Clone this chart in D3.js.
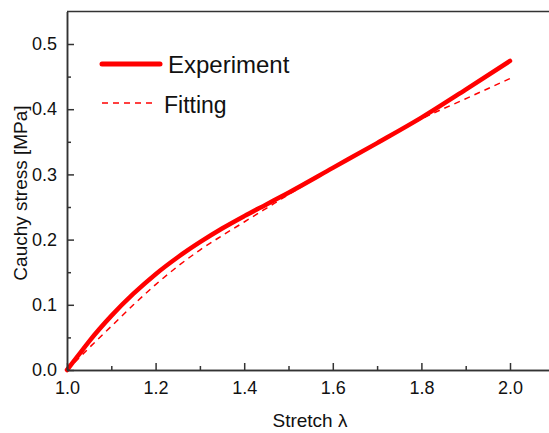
<!DOCTYPE html>
<html>
<head>
<meta charset="utf-8">
<script src="https://cdn.jsdelivr.net/npm/d3@7"></script>
<style>
	body { margin: 0; background: #ffffff; }
	svg { display: block; font-family: "Liberation Sans", Arial, sans-serif; }
</style>
</head>
<body>
<script>
// stretch values and stress readings (MPa)
var expStretch = [1.0, 1.025, 1.05, 1.1, 1.15, 1.2, 1.25, 1.3, 1.35, 1.4, 1.45, 1.5, 1.6, 1.7, 1.8, 1.9, 2.0];
var expStress = [0, 0.022, 0.044, 0.083, 0.117, 0.147, 0.173, 0.196, 0.217, 0.236, 0.254, 0.272, 0.310, 0.348, 0.387, 0.430, 0.474];
var fitStretch = [1.0, 1.05, 1.1, 1.15, 1.2, 1.25, 1.3, 1.35, 1.4, 1.45, 1.5, 1.6, 1.7, 1.8, 1.9, 2.0];
var fitStress = [0, 0.034, 0.067, 0.100, 0.131, 0.159, 0.184, 0.206, 0.227, 0.248, 0.269, 0.309, 0.347, 0.385, 0.416, 0.447];
var xMajor = [1.0, 1.2, 1.4, 1.6, 1.8, 2.0];
var xMinor = [1.1, 1.3, 1.5, 1.7, 1.9];
var yMajor = [0, 0.1, 0.2, 0.3, 0.4, 0.5];
var yMinor = [0.05, 0.15, 0.25, 0.35, 0.45];
var seriesNames = ["Experiment", "Fitting"];

var width = 549, height = 433;
var red = "#ff0000";
var axisColor = "#333333";

var svg = d3.select("body")
	.append("svg")
	.attr("width", width)
	.attr("height", height);

var x = d3.scaleLinear()
	.domain([1, 2.1])
	.range([67, 554.3]);
var y = d3.scaleLinear()
	.domain([0, 0.55])
	.range([370, 11.4]);

// curves
var line = d3.line()
	.x(function (d) { return x(d[0]); })
	.y(function (d) { return y(d[1]); })
	.curve(d3.curveMonotoneX);

svg.append("path")
	.datum(d3.zip(fitStretch, fitStress))
	.attr("d", line)
	.attr("fill", "none")
	.attr("stroke", red)
	.attr("stroke-width", 1.5)
	.attr("stroke-dasharray", "6,5");

svg.append("path")
	.datum(d3.zip(expStretch, expStress))
	.attr("d", line)
	.attr("fill", "none")
	.attr("stroke", red)
	.attr("stroke-width", 4.5)
	.attr("stroke-linecap", "round");

// axes
function styleAxis (g) {
	g.selectAll("path, line").attr("stroke", axisColor).attr("stroke-width", 1.5);
	g.selectAll("text").attr("fill", "#111").style("font-size", "18px").style("font-family", "Liberation Sans, Arial, sans-serif");
}

svg.append("g")
	.attr("transform", "translate(0," + y(0) + ")")
	.call(d3.axisBottom(x).tickValues(xMinor).tickSizeInner(-4).tickSizeOuter(0).tickFormat(""))
	.call(styleAxis);
svg.append("g")
	.attr("transform", "translate(0," + y(0) + ")")
	.call(d3.axisBottom(x).tickValues(xMajor).tickSizeInner(-7).tickSizeOuter(0).tickPadding(11).tickFormat(d3.format(".1f")))
	.call(styleAxis);

svg.append("g")
	.attr("transform", "translate(" + x(1) + ",0)")
	.call(d3.axisLeft(y).tickValues(yMinor).tickSizeInner(-4).tickSizeOuter(0).tickFormat(""))
	.call(styleAxis);
svg.append("g")
	.attr("transform", "translate(" + x(1) + ",0)")
	.call(d3.axisLeft(y).tickValues(yMajor).tickSizeInner(-7).tickSizeOuter(0).tickPadding(10).tickFormat(d3.format(".1f")))
	.call(styleAxis);

// top frame line
svg.append("line")
	.attr("x1", x(1)).attr("x2", width)
	.attr("y1", y(0.55)).attr("y2", y(0.55))
	.attr("stroke", axisColor)
	.attr("stroke-width", 1.5);

// axis titles
svg.append("text")
	.attr("x", 310)
	.attr("y", 427)
	.attr("text-anchor", "middle")
	.attr("fill", "#111")
	.style("font-size", "19px")
	.text("Stretch λ");

svg.append("text")
	.attr("transform", "translate(27,193) rotate(-90)")
	.attr("text-anchor", "middle")
	.attr("fill", "#111")
	.style("font-size", "19px")
	.text("Cauchy stress [MPa]");

// legend
var legend = svg.append("g");
legend.append("line")
	.attr("x1", 102).attr("x2", 160)
	.attr("y1", 64).attr("y2", 64)
	.attr("stroke", red)
	.attr("stroke-width", 5)
	.attr("stroke-linecap", "round");
legend.append("text")
	.attr("x", 168).attr("y", 73)
	.attr("fill", "#111")
	.style("font-size", "24px")
	.text(seriesNames[0]);
legend.append("line")
	.attr("x1", 102).attr("x2", 156)
	.attr("y1", 103).attr("y2", 103)
	.attr("stroke", red)
	.attr("stroke-width", 1.5)
	.attr("stroke-dasharray", "6,5");
legend.append("text")
	.attr("x", 164).attr("y", 113)
	.attr("fill", "#111")
	.style("font-size", "23px")
	.text(seriesNames[1]);
</script>
</body>
</html>
